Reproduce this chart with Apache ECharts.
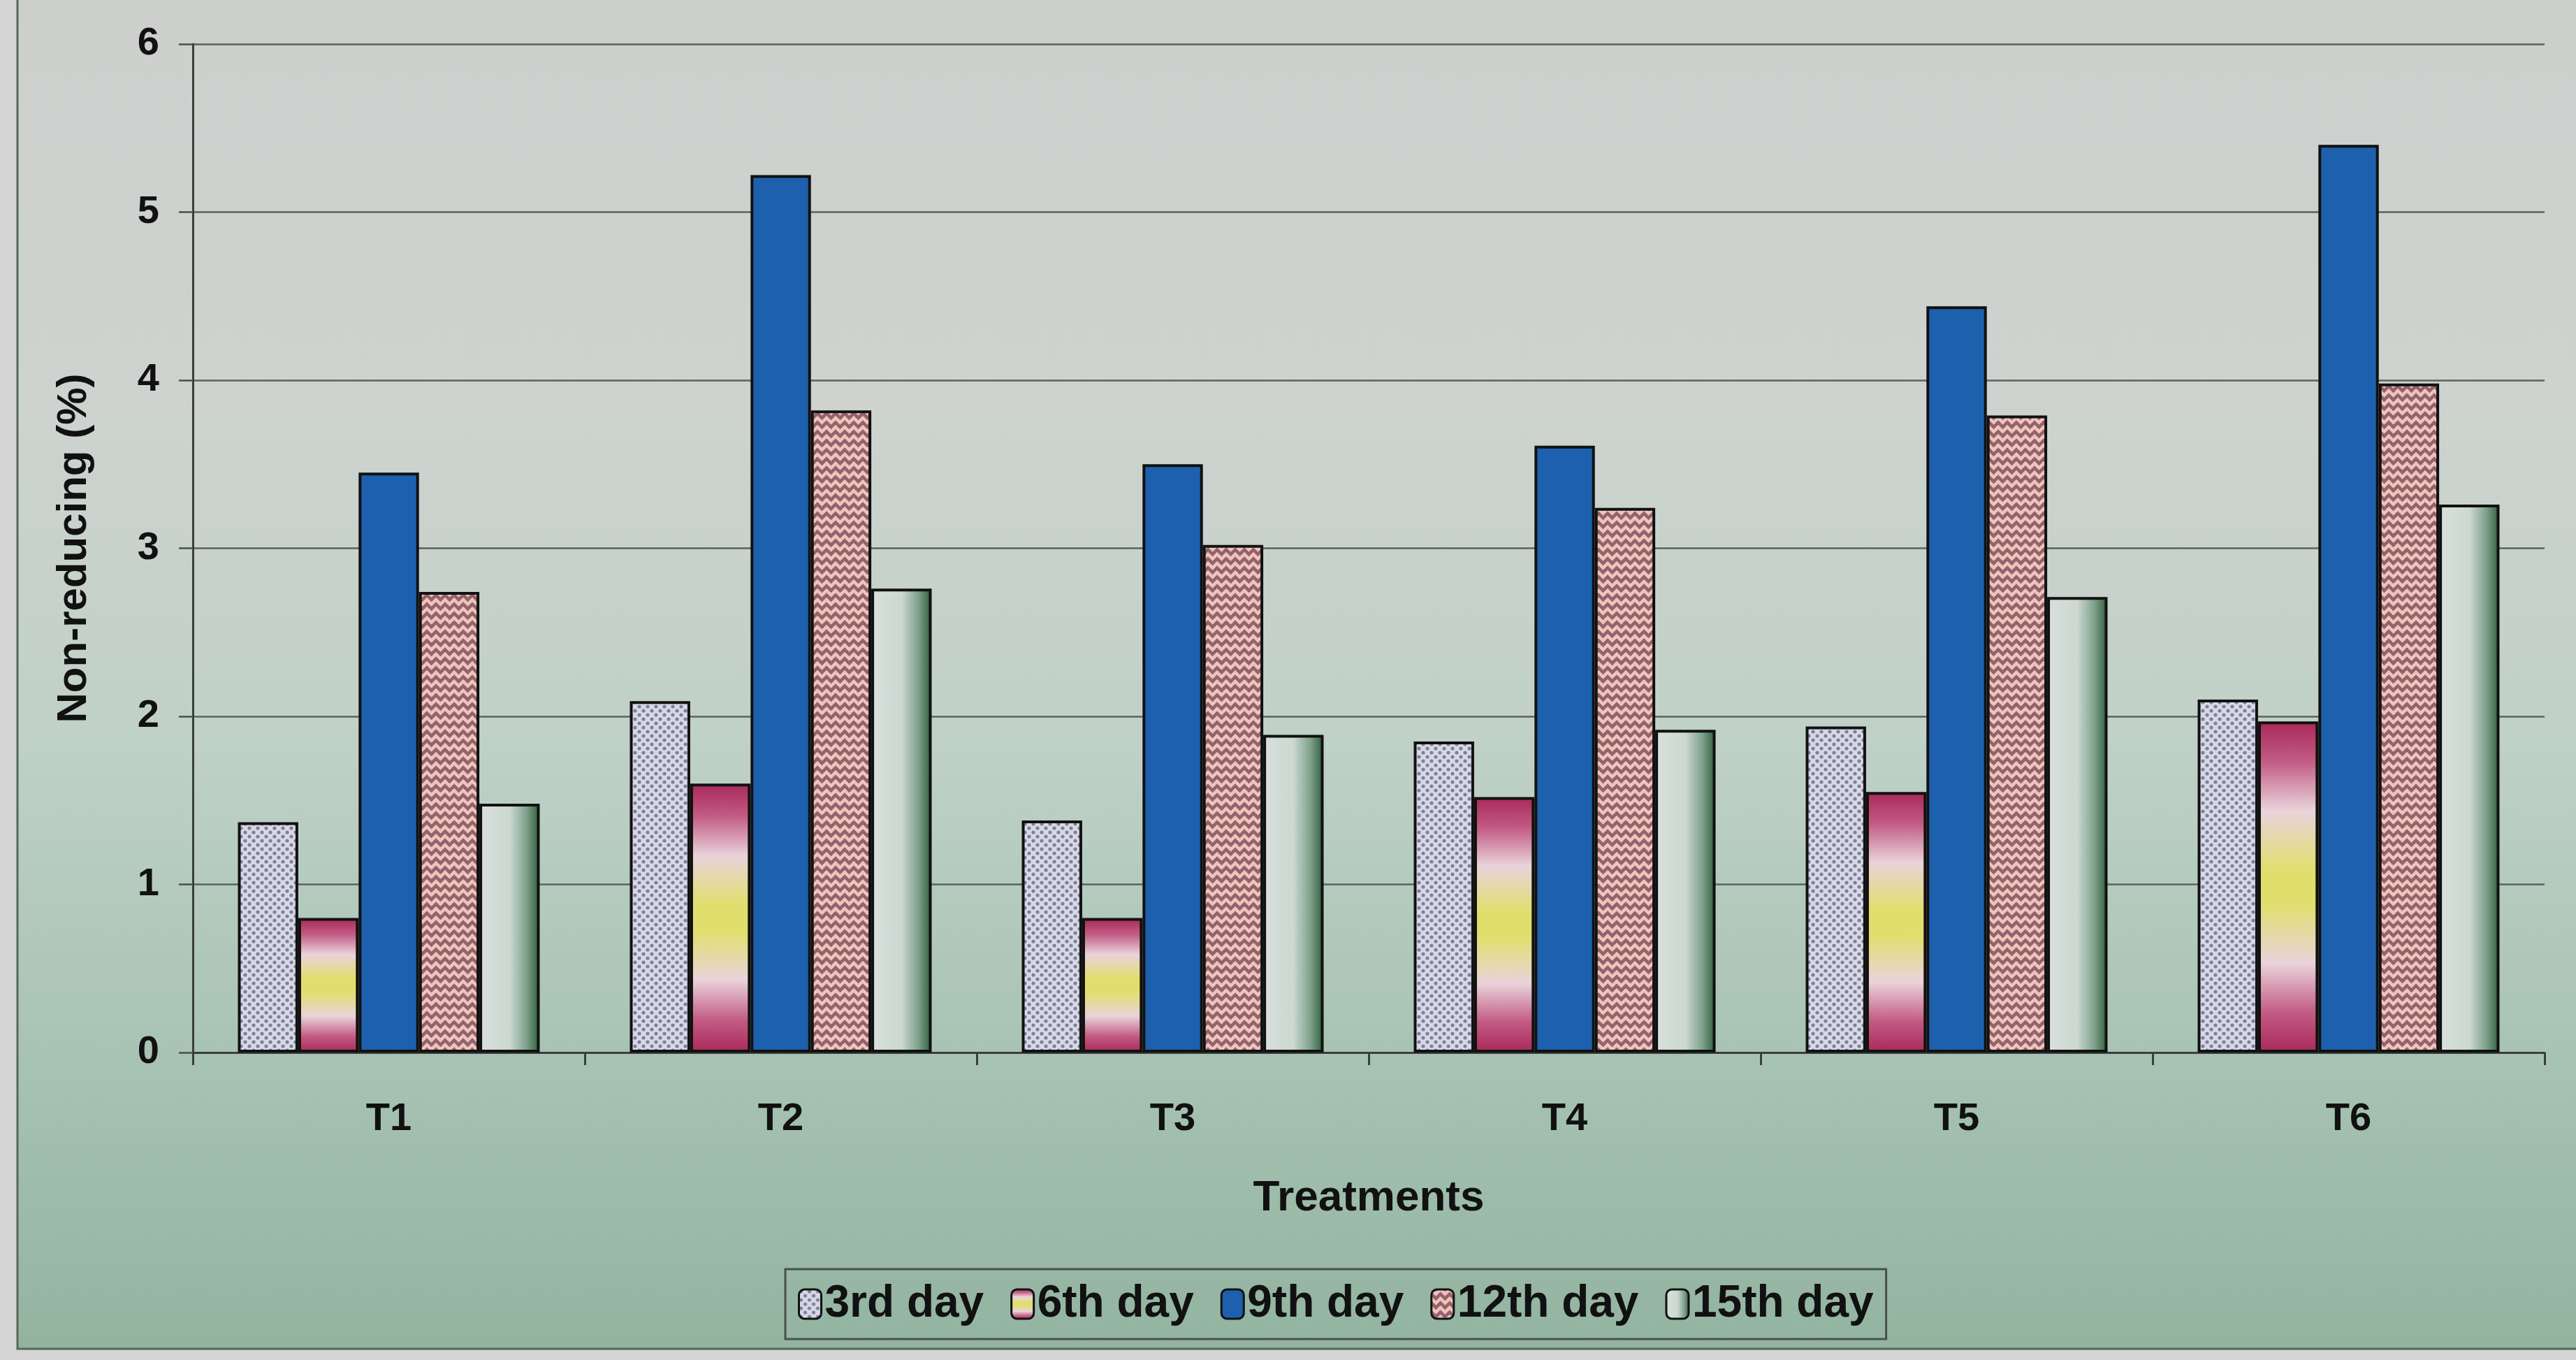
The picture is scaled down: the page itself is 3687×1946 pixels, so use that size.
<!DOCTYPE html>
<html>
<head>
<meta charset="utf-8">
<title>Non-reducing sugar by treatment</title>
<script src="https://cdn.jsdelivr.net/npm/echarts@6/dist/echarts.min.js"></script>
<style>
  html, body { margin: 0; padding: 0; background: #d3d4d3; }
  #chart { width: 3687px; height: 1946px; }
</style>
</head>
<body>
<div id="chart"></div>
<script>
// Treatments on the x axis
const categories = ['T1', 'T2', 'T3', 'T4', 'T5', 'T6'];

// Non-reducing sugar (%) per storage day
const day3  = [1.37, 2.09, 1.38, 1.85, 1.94, 2.10];
const day6  = [0.80, 1.60, 0.80, 1.52, 1.55, 1.97];
const day9  = [3.45, 5.22, 3.50, 3.61, 4.44, 5.40];
const day12 = [2.74, 3.82, 3.02, 3.24, 3.79, 3.98];
const day15 = [1.48, 2.76, 1.89, 1.92, 2.71, 3.26];

const seriesNames = ['3rd day', '6th day', '9th day', '12th day', '15th day'];
const yTicks = [0, 1, 2, 3, 4, 5, 6];

// Dotted fill (3rd day)
function dotPattern() {
  const c = document.createElement('canvas');
  c.width = 12; c.height = 12;
  const g = c.getContext('2d');
  g.fillStyle = '#d8d9e6';
  g.fillRect(0, 0, 12, 12);
  g.fillStyle = '#7f8098';
  [[3, 3], [9, 9]].forEach(([x, y]) => {
    g.beginPath(); g.arc(x, y, 2.6, 0, Math.PI * 2); g.fill();
  });
  return c;
}

// Woven herringbone fill (12th day)
function weavePattern() {
  const s = 26, h = s / 2, q = s / 4;
  const c = document.createElement('canvas');
  c.width = s; c.height = s;
  const g = c.getContext('2d');
  g.fillStyle = '#93636d';
  g.fillRect(0, 0, s, s);
  g.strokeStyle = '#f0c4bb';
  g.lineWidth = 4.5;
  g.lineJoin = 'miter';
  g.beginPath();
  // chevron rows, repeated at half-tile spacing
  [0, h, s].forEach(y0 => {
    g.moveTo(-q, y0 + q);
    for (let x = -q, k = 0; x <= s + q; x += q, k++) {
      g.lineTo(x, y0 + (k % 2 === 0 ? q : 0));
    }
  });
  g.stroke();
  return c;
}

const G = echarts.graphic;

const fill6 = new G.LinearGradient(0, 0, 0, 1, [
  { offset: 0.00, color: '#a8285a' },
  { offset: 0.12, color: '#c25b84' },
  { offset: 0.27, color: '#e9d3da' },
  { offset: 0.45, color: '#e0df6e' },
  { offset: 0.55, color: '#e0df6e' },
  { offset: 0.73, color: '#ead3da' },
  { offset: 0.88, color: '#c25b84' },
  { offset: 1.00, color: '#a8285a' }
]);

const fill15 = new G.LinearGradient(0, 0, 1, 0, [
  { offset: 0.00, color: '#d8e0dc' },
  { offset: 0.50, color: '#ccd8d2' },
  { offset: 0.78, color: '#7fa18b' },
  { offset: 1.00, color: '#2c5c3b' }
]);

const fills = [
  { image: dotPattern(), repeat: 'repeat' },
  fill6,
  '#1d60ae',
  { image: weavePattern(), repeat: 'repeat' },
  fill15
];

const values = [day3, day6, day9, day12, day15];

const font = '"Liberation Sans", Arial, sans-serif';

const chart = echarts.init(document.getElementById('chart'), null, { renderer: 'canvas' });

chart.setOption({
  backgroundColor: 'transparent',
  animation: false,
  graphic: [
    {
      type: 'rect',
      z: -10,
      silent: true,
      shape: { x: 25, y: -10, width: 3700, height: 1940 },
      style: {
        fill: new G.LinearGradient(0, 0, 0, 1, [
          { offset: 0.00, color: '#cdcfcd' },
          { offset: 0.30, color: '#ced3cf' },
          { offset: 0.55, color: '#c0d1c7' },
          { offset: 0.80, color: '#a6c2b2' },
          { offset: 1.00, color: '#93b39f' }
        ]),
        stroke: '#56675c',
        lineWidth: 3
      }
    }
  ],
  grid: {
    left: 276,
    right: 45,
    top: 63,
    bottom: 440,
    containLabel: false
  },
  legend: {
    data: seriesNames,
    left: 1124,
    top: 1816,
    orient: 'horizontal',
    itemWidth: 32,
    itemHeight: 42,
    itemGap: 38,
    padding: [18, 18],
    borderColor: '#4a4f4c',
    borderWidth: 3,
    backgroundColor: 'rgba(150,185,168,0.15)',
    textStyle: { fontFamily: font, fontWeight: 'bold', fontSize: 64, color: '#111' },
    itemStyle: { borderColor: '#111', borderWidth: 3 }
  },
  xAxis: {
    type: 'category',
    data: categories,
    name: 'Treatments',
    nameLocation: 'middle',
    nameGap: 178,
    nameTextStyle: { fontFamily: font, fontWeight: 'bold', fontSize: 62, color: '#111' },
    axisLine: { show: true, lineStyle: { color: '#3a3f3c', width: 3 } },
    axisTick: { show: true, alignWithLabel: false, length: 18, lineStyle: { color: '#3a3f3c', width: 3 } },
    axisLabel: { margin: 68, fontFamily: font, fontWeight: 'bold', fontSize: 56, color: '#111' },
    splitLine: { show: false }
  },
  yAxis: {
    type: 'value',
    min: yTicks[0],
    max: yTicks[yTicks.length - 1],
    interval: 1,
    name: 'Non-reducing (%)',
    nameLocation: 'middle',
    nameGap: 140,
    nameTextStyle: { fontFamily: font, fontWeight: 'bold', fontSize: 60, color: '#111' },
    axisLine: { show: true, lineStyle: { color: '#3a3f3c', width: 3 } },
    axisTick: { show: true, length: 20, lineStyle: { color: '#4a4f4c', width: 2.5 } },
    axisLabel: { margin: 48, fontFamily: font, fontWeight: 'bold', fontSize: 56, color: '#111' },
    splitLine: { show: true, lineStyle: { color: '#5c625e', width: 2.5 } }
  },
  series: seriesNames.map((name, i) => ({
    name: name,
    type: 'bar',
    data: values[i],
    barGap: '0%',
    barCategoryGap: '23%',
    itemStyle: {
      color: fills[i],
      borderColor: '#111',
      borderWidth: 4
    },
    emphasis: { disabled: true }
  }))
});
</script>
</body>
</html>
